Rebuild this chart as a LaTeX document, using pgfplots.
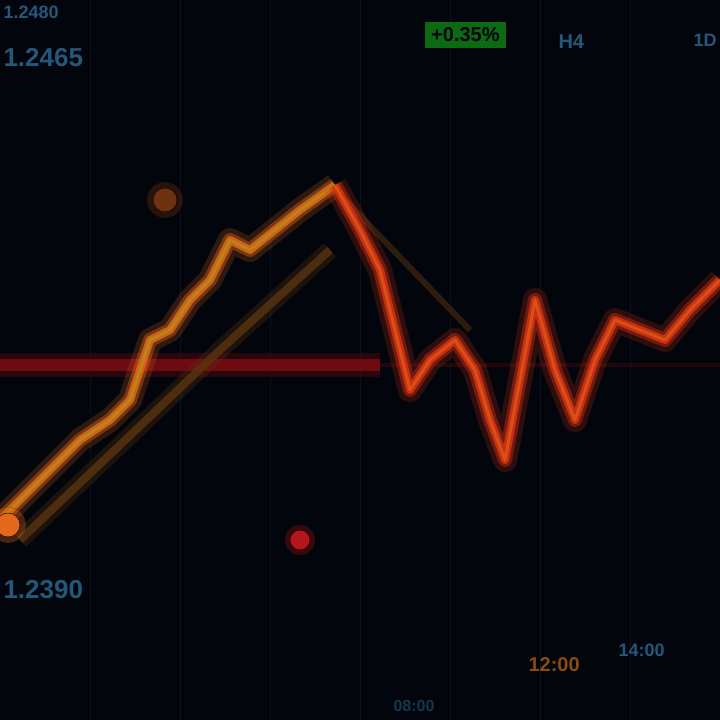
\documentclass[border=0pt]{standalone}
\usepackage{pgfplots}
\pgfplotsset{compat=1.18}
\usepackage{fontspec}
\setmainfont{Liberation Sans}

\definecolor{bg}{HTML}{03050C}
\definecolor{gridc}{HTML}{0A101C}
\definecolor{txtblue}{HTML}{24587A}
\definecolor{txtgreen}{HTML}{0C6A12}
\definecolor{txtorange}{HTML}{8A4A10}
\definecolor{lineor}{HTML}{E2681A}
\definecolor{lineyel}{HTML}{A8A018}
\definecolor{linered}{HTML}{D83212}
\definecolor{brownl}{HTML}{5A3410}
\definecolor{hline}{HTML}{6E0A10}
\definecolor{dotred}{HTML}{B8141A}
\definecolor{dotor}{HTML}{6E3210}

% pixel coordinates, y measured upward (720 - row)
\pgfplotstableread{
x y
0 200
40 240
80 280
110 300
130 320
150 380
170 390
190 420
210 440
230 480
250 470
275 490
300 510
335 535
}\risetab

\pgfplotstableread{
x y
335 535
360 490
380 450
395 390
410 330
430 360
455 380
475 350
490 300
505 260
520 340
535 420
555 350
575 300
595 360
615 400
640 390
665 380
690 410
720 440
}\falltab

\pgfplotstableread{
x y
20 180
120 275
220 370
330 470
}\lowtab

\begin{document}
\begin{tikzpicture}
\begin{axis}[
  width=720pt, height=720pt, scale only axis,
  xmin=0, xmax=720, ymin=0, ymax=720,
  axis lines=none,
  clip=true, clip marker paths=true,
]
% background
\addplot[fill=bg, draw=none] coordinates {(0,0) (720,0) (720,720) (0,720)} -- cycle;
% faint grid
\addplot[gridc, line width=1pt, forget plot] coordinates {(90,0) (90,720)};
\addplot[gridc, line width=1pt, forget plot] coordinates {(180,0) (180,720)};
\addplot[gridc, line width=1pt, forget plot] coordinates {(270,0) (270,720)};
\addplot[gridc, line width=1pt, forget plot] coordinates {(360,0) (360,720)};
\addplot[gridc, line width=1pt, forget plot] coordinates {(450,0) (450,720)};
\addplot[gridc, line width=1pt, forget plot] coordinates {(540,0) (540,720)};
\addplot[gridc, line width=1pt, forget plot] coordinates {(630,0) (630,720)};
% red horizontal level
\addplot[hline, line width=24pt, opacity=0.35] coordinates {(0,355) (380,355)};
\addplot[hline, line width=12pt] coordinates {(0,355) (380,355)};
\addplot[hline, line width=4pt, opacity=0.3] coordinates {(380,355) (720,355)};
% lower brown channel line
\addplot[brownl, line width=18pt, opacity=0.3] table {\lowtab};
\addplot[brownl, line width=8pt, opacity=0.8] table {\lowtab};
% upper channel (fainter)
\addplot[brownl, line width=6pt, opacity=0.5] coordinates {(345,520) (470,390)};
% main price line
\addplot[lineor, line width=24pt, opacity=0.2, line join=round] table {\risetab};
\addplot[lineor, line width=14pt, opacity=0.4, line join=round] table {\risetab};
\addplot[lineor, line width=8pt, opacity=0.85, line join=round] table {\risetab};
\addplot[lineyel, line width=3pt, line join=round, opacity=0.6] table {\risetab};
\addplot[linered, line width=24pt, opacity=0.2, line join=round] table {\falltab};
\addplot[linered, line width=14pt, opacity=0.4, line join=round] table {\falltab};
\addplot[linered, line width=8pt, opacity=0.85, line join=round] table {\falltab};
\addplot[lineor, line width=3pt, line join=round, opacity=0.6] table {\falltab};
% markers
\addplot[only marks, mark=*, mark size=18pt, mark options={draw=none, fill=lineor, opacity=0.3}] coordinates {(8,195)};
\addplot[only marks, mark=*, mark size=12pt, mark options={draw=none, fill=lineor}] coordinates {(8,195)};
\addplot[only marks, mark=*, mark size=15pt, mark options={draw=none, fill=dotred, opacity=0.3}] coordinates {(300,180)};
\addplot[only marks, mark=*, mark size=10pt, mark options={draw=none, fill=dotred}] coordinates {(300,180)};
\addplot[only marks, mark=*, mark size=18pt, mark options={draw=none, fill=dotor, opacity=0.35}] coordinates {(165,520)};
\addplot[only marks, mark=*, mark size=12pt, mark options={draw=none, fill=dotor}] coordinates {(165,520)};
% labels
\node[anchor=west, text=txtblue, font=\bfseries\fontsize{18}{20}\selectfont] at (axis cs:0,708) {1.2480};
\node[anchor=west, text=txtblue, font=\bfseries\fontsize{26}{28}\selectfont] at (axis cs:0,662) {1.2465};
\node[anchor=west, fill=txtgreen, text=bg, inner sep=6pt, font=\bfseries\fontsize{20}{22}\selectfont] at (axis cs:425,685) {+0.35\%};
\node[anchor=west, text=txtblue, font=\bfseries\fontsize{20}{22}\selectfont] at (axis cs:555,678) {H4};
\node[anchor=west, text=txtblue, font=\bfseries\fontsize{18}{20}\selectfont] at (axis cs:690,680) {1D};
\node[anchor=west, text=txtblue, font=\bfseries\fontsize{26}{28}\selectfont] at (axis cs:0,130) {1.2390};
\node[anchor=west, text=txtorange, font=\bfseries\fontsize{20}{22}\selectfont] at (axis cs:525,55) {12:00};
\node[anchor=west, text=txtblue, font=\bfseries\fontsize{18}{20}\selectfont] at (axis cs:615,70) {14:00};
\node[anchor=west, text=txtblue, opacity=0.6, font=\bfseries\fontsize{16}{18}\selectfont] at (axis cs:390,14) {08:00};
\end{axis}
\pgfresetboundingbox
\path[use as bounding box] (current axis.south west) rectangle (current axis.north east);
\end{tikzpicture}
\end{document}
